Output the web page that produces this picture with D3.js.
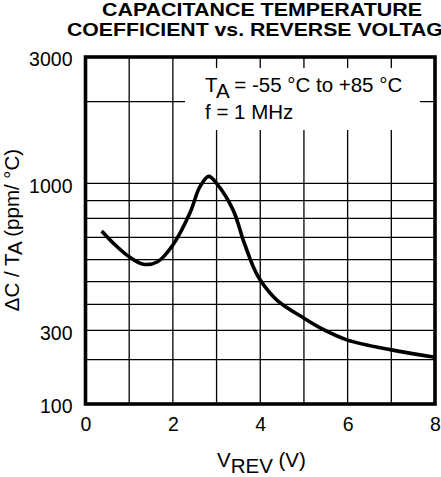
<!DOCTYPE html>
<html>
<head>
<meta charset="utf-8">
<script src="https://cdn.jsdelivr.net/npm/d3@7"></script>
<style>
  body { margin: 0; background: #fff; }
  text { font-family: "Liberation Sans", Arial, sans-serif; fill: #000; }
</style>
</head>
<body>
<svg id="chart" width="441" height="477"></svg>
<script>
// curve: reverse voltage (V) vs. ppm/°C
const vRev = [0.37, 0.68, 1.0, 1.32, 1.65, 2.0, 2.39, 2.62, 2.82, 3.0, 3.38, 3.61, 3.84, 4.0, 4.38, 5.0, 5.44, 6.0, 7.0, 8.0];
const tempCoef = [732, 664, 612, 578, 590, 664, 829, 980, 1061, 1000, 845, 687, 566, 507, 417, 343, 303, 262, 229, 207];

// the printed grid is not a true log grid, so the scale is pinned at every grid line
const yGridValues = [100, 200, 300, 400, 500, 600, 700, 800, 900, 1000, 2000, 3000];
const yGridFrac = [0, 0.1277, 0.2124, 0.2873, 0.3524, 0.4159, 0.4804, 0.5352, 0.5859, 0.6360, 0.8712, 1];
const yTickLabels = [100, 300, 1000, 3000];
const xGridValues = [1, 2, 3, 4, 5, 6, 7];
const xTickLabels = [0, 2, 4, 6, 8];

const margin = {top: 57, left: 85.5},
  width = 349.5,
  height = 347;

const svg = d3.select("#chart");
const g = svg.append("g")
  .attr("transform", "translate(" + margin.left + "," + margin.top + ")");

const xScale = d3.scaleLinear().domain([0, 8]).range([0, width]);
const yScale = d3.scaleLog()
  .domain(yGridValues)
  .range(yGridFrac.map(function(f) { return height * (1 - f); }));

// grid
g.append("g")
  .selectAll("line.h")
  .data(yGridValues.filter(function(v) { return v > 100 && v < 3000; }))
  .enter().append("line")
  .attr("x1", 0).attr("x2", width)
  .attr("y1", function(d) { return yScale(d); })
  .attr("y2", function(d) { return yScale(d); })
  .attr("stroke", "#000").attr("stroke-width", 1.3);

g.append("g")
  .selectAll("line.v")
  .data(xGridValues)
  .enter().append("line")
  .attr("y1", 0).attr("y2", height)
  .attr("x1", function(d) { return xScale(d); })
  .attr("x2", function(d) { return xScale(d); })
  .attr("stroke", "#000").attr("stroke-width", 1.3);

// white box behind the conditions text
g.append("rect")
  .attr("x", 185 - margin.left).attr("y", 68 - margin.top)
  .attr("width", 235).attr("height", 62)
  .attr("fill", "#fff");

const cond = svg.append("g").style("font-size", "20.5px");
const c1 = cond.append("text").attr("x", 205).attr("y", 92);
c1.append("tspan").text("T");
c1.append("tspan").attr("dy", 6).text("A");
c1.append("tspan").attr("dy", -6).text(" = -55 °C to +85 °C");
cond.append("text").attr("x", 205).attr("y", 119).text("f = 1 MHz");

// curve
const line = d3.line()
  .x(function(d) { return xScale(d[0]); })
  .y(function(d) { return yScale(d[1]); })
  .curve(d3.curveCatmullRom.alpha(0.5));

g.append("path")
  .datum(d3.zip(vRev, tempCoef))
  .attr("d", line)
  .attr("fill", "none")
  .attr("stroke", "#000")
  .attr("stroke-width", 3.6)
  .attr("stroke-linejoin", "round");

// frame
g.append("rect")
  .attr("x", 0).attr("y", 0)
  .attr("width", width).attr("height", height)
  .attr("fill", "none")
  .attr("stroke", "#000")
  .attr("stroke-width", 3.6);

// axes (labels only)
const yAxis = g.append("g")
  .call(d3.axisLeft(yScale).tickValues(yTickLabels).tickSize(0).tickPadding(13).tickFormat(d3.format("d")));
yAxis.select(".domain").remove();
yAxis.selectAll("text")
  .style("font-size", "19.5px")
  .style("font-family", "Liberation Sans, Arial, sans-serif")
  .attr("dy", "0.45em");

const xAxis = g.append("g")
  .attr("transform", "translate(0," + height + ")")
  .call(d3.axisBottom(xScale).tickValues(xTickLabels).tickSize(0).tickPadding(13).tickFormat(d3.format("d")));
xAxis.select(".domain").remove();
xAxis.selectAll("text")
  .style("font-size", "19.5px")
  .style("font-family", "Liberation Sans, Arial, sans-serif");

// axis titles
const xt = svg.append("text")
  .attr("x", 217).attr("y", 467)
  .style("font-size", "20.5px");
xt.append("tspan").text("V");
xt.append("tspan").attr("dy", 5.5).text("REV");
xt.append("tspan").attr("dy", -5.5).text(" (V)");

const yt = svg.append("text")
  .attr("transform", "translate(19,230) rotate(-90)")
  .attr("text-anchor", "middle")
  .style("font-size", "20.5px");
yt.append("tspan").text("ΔC / T");
yt.append("tspan").attr("dy", 3).text("A");
yt.append("tspan").attr("dy", -3).text(" (ppm/ °C)");

// title
svg.append("text")
  .attr("x", 102).attr("y", 16)
  .attr("textLength", 320).attr("lengthAdjust", "spacingAndGlyphs")
  .style("font-size", "18px").style("font-weight", "bold")
  .text("CAPACITANCE TEMPERATURE");
svg.append("text")
  .attr("x", 67).attr("y", 36)
  .attr("textLength", 390).attr("lengthAdjust", "spacingAndGlyphs")
  .style("font-size", "18.5px").style("font-weight", "bold")
  .text("COEFFICIENT vs. REVERSE VOLTAGE");
</script>
</body>
</html>
